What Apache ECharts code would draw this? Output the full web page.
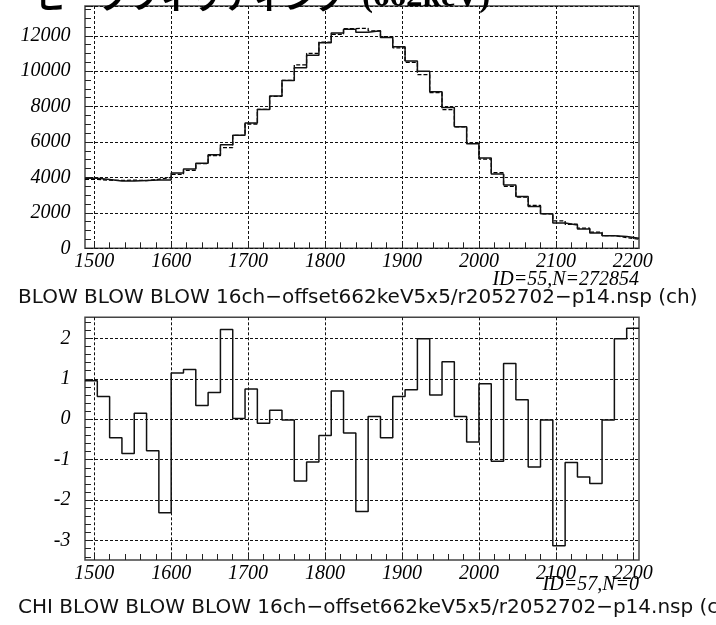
<!DOCTYPE html>
<html><head><meta charset="utf-8">
<script src="https://cdn.jsdelivr.net/npm/echarts@6/dist/echarts.min.js"></script>
<style>html,body{margin:0;padding:0;background:#fff}#c{width:716px;height:625px}</style>
</head><body><div id="c"></div>
<script>
// bin edges (16 channels per bin)
const binEdges = [1488,1504,1520,1536,1552,1568,1584,1600,1616,1632,1648,1664,1680,1696,1712,1728,1744,1760,1776,1792,1808,1824,1840,1856,1872,1888,1904,1920,1936,1952,1968,1984,2000,2016,2032,2048,2064,2080,2096,2112,2128,2144,2160,2176,2192,2208];
// measured counts per bin
const counts = [3950,3880,3800,3800,3830,3850,3860,4250,4480,4800,5280,5850,6380,7080,7830,8600,9480,10200,10900,11600,12150,12370,12200,12280,11900,11380,10570,10000,8845,7950,6860,5900,5100,4200,3580,2920,2360,1950,1430,1320,1090,865,715,660,565];
// fitted counts per bin (dashed)
const fitCounts = [3890,3845,3830,3852,3820,3898,4003,4176,4398,4776,5232,5681,6378,7017,7839,8580,9482,10355,11010,11643,12073,12408,12420,12272,11950,11320,10495,9800,8790,7824,6854,5943,5037,4268,3497,2894,2417,1951,1549,1359,1137,912,716,608,511];
// chi per bin
const chiValues = [0.95,0.56,-0.46,-0.85,0.15,-0.78,-2.31,1.14,1.23,0.34,0.66,2.22,0.02,0.75,-0.10,0.22,-0.02,-1.53,-1.06,-0.40,0.70,-0.34,-2.28,0.07,-0.46,0.56,0.73,1.99,0.60,1.42,0.07,-0.56,0.88,-1.04,1.38,0.48,-1.18,-0.02,-3.13,-1.07,-1.43,-1.59,-0.02,1.99,2.25];

const xMajorTicks = [1500,1600,1700,1800,1900,2000,2100,2200];
const xMinorTicks = [1500,1520,1540,1560,1580,1600,1620,1640,1660,1680,1700,1720,1740,1760,1780,1800,1820,1840,1860,1880,1900,1920,1940,1960,1980,2000,2020,2040,2060,2080,2100,2120,2140,2160,2180,2200];
const countTicks = [0,2000,4000,6000,8000,10000,12000];
const chiMajorTicks = [-3,-2,-1,0,1,2];
const chiMinorTicks = [-3.4,-3.2,-3.0,-2.8,-2.6,-2.4,-2.2,-2.0,-1.8,-1.6,-1.4,-1.2,-1.0,-0.8,-0.6,-0.4,-0.2,0,0.2,0.4,0.6,0.8,1.0,1.2,1.4,1.6,1.8,2.0,2.2,2.4];

const topTitleJa = 'ピークフィッティング';
const topTitleEn = '(662keV)';
const histTitle = 'BLOW BLOW BLOW 16ch\u2212offset662keV5x5/r2052702\u2212p14.nsp (ch)';
const chiTitle = 'CHI BLOW BLOW BLOW 16ch\u2212offset662keV5x5/r2052702\u2212p14.nsp (ch)';
const histId = 'ID=55,N=272854';
const chiId = 'ID=57,N=0';

function stepData(vals){
  const d = vals.map((v,i)=>[binEdges[i], v]);
  d.push([binEdges[vals.length], vals[vals.length-1]]);
  return d;
}

const gridLine = {show:true, lineStyle:{color:'#111', width:1, type:[3,2]}};
const tickStyle = {show:true, inside:true, length:6, lineStyle:{color:'#222', width:1}};
const noLine = {show:false, onZero:false};
const X_MIN = binEdges[0], X_MAX = binEdges[binEdges.length-1];
const CHI_MIN = -3.48, CHI_MAX = 2.52, COUNT_MAX = 13680;

function majorX(grid){
  return {type:'value', gridIndex:grid, min:X_MIN, max:X_MAX, position:'bottom',
    axisLine:noLine,
    axisTick:Object.assign({customValues:xMajorTicks}, tickStyle),
    axisLabel:{show:false, customValues:xMajorTicks},
    splitLine:gridLine};
}
function minorX(grid){
  return {type:'value', gridIndex:grid, min:X_MIN, max:X_MAX, position:'bottom', offset:0,
    axisLine:noLine,
    axisTick:Object.assign({customValues:xMinorTicks}, tickStyle),
    axisLabel:{show:false}, splitLine:{show:false}};
}

const option = {
  backgroundColor:'#fff',
  animation:false,
  grid:[
    {left:85, right:77, top:6, height:242.3, show:true, borderColor:'#444', borderWidth:1.5, backgroundColor:'#fff'},
    {left:85, right:77, top:317.3, height:242.7, show:true, borderColor:'#444', borderWidth:1.5, backgroundColor:'#fff'}
  ],
  xAxis:[ majorX(0), minorX(0), majorX(1), minorX(1) ],
  yAxis:[
    {type:'value', gridIndex:0, min:0, max:COUNT_MAX, interval:2000, position:'left',
      axisLine:noLine,
      axisTick:tickStyle,
      minorTick:{show:true, splitNumber:4, length:6, lineStyle:{color:'#222', width:1}},
      axisLabel:{show:false},
      splitLine:gridLine},
    {type:'value', gridIndex:1, min:CHI_MIN, max:CHI_MAX, position:'left',
      axisLine:noLine,
      axisTick:Object.assign({customValues:chiMajorTicks}, tickStyle),
      axisLabel:{show:false, customValues:chiMajorTicks},
      splitLine:gridLine},
    {type:'value', gridIndex:1, min:CHI_MIN, max:CHI_MAX, position:'left', offset:0,
      axisLine:noLine,
      axisTick:Object.assign({customValues:chiMinorTicks}, tickStyle),
      axisLabel:{show:false}, splitLine:{show:false}}
  ],
  series:[
    {type:'line', xAxisIndex:0, yAxisIndex:0, step:'end', symbol:'none', data:stepData(fitCounts),
      lineStyle:{color:'#000', width:1.3, type:[4,2]}, z:3},
    {type:'line', xAxisIndex:0, yAxisIndex:0, step:'end', symbol:'none', data:stepData(counts),
      lineStyle:{color:'#111', width:1.5}, z:4},
    {type:'line', xAxisIndex:2, yAxisIndex:1, step:'end', symbol:'none', data:stepData(chiValues),
      lineStyle:{color:'#111', width:1.5}, z:4}
  ]
};
const chart = echarts.init(document.getElementById('c'), null, {renderer:'canvas'});
chart.setOption(option);

// tick labels placed through the axes' own scales
const LABEL_FONT = "italic 20px 'Liberation Serif'";
function txt(text, x, y, align, font){
  return {type:'text', x:x, y:y, z:10, silent:true,
    style:{text:text, font:font || LABEL_FONT, fill:'#000', textAlign:align || 'center', textVerticalAlign:'middle'}};
}
const els = [];
const topBottom = chart.convertToPixel({yAxisIndex:0}, 0);
const botBottom = chart.convertToPixel({yAxisIndex:1}, CHI_MIN);
const leftEdge = chart.convertToPixel({xAxisIndex:0}, X_MIN);
xMajorTicks.forEach(v => {
  els.push(txt(String(v), chart.convertToPixel({xAxisIndex:0}, v), topBottom + 13.5));
  els.push(txt(String(v), chart.convertToPixel({xAxisIndex:2}, v), botBottom + 14));
});
countTicks.forEach(v => els.push(txt(String(v), leftEdge - 14.5, chart.convertToPixel({yAxisIndex:0}, v), 'right')));
chiMajorTicks.forEach(v => els.push(txt(String(v), leftEdge - 14.5, chart.convertToPixel({yAxisIndex:1}, v), 'right')));

els.push({type:'text', x:36, y:-4, style:{text:topTitleJa, font:"bold 31px 'Noto Sans CJK JP'", fill:'#000', textVerticalAlign:'middle'}});
els.push({type:'text', x:362, y:-3, style:{text:topTitleEn, font:"bold 33px 'Liberation Serif'", fill:'#000', textVerticalAlign:'middle'}});
els.push({type:'text', x:18, y:298, style:{text:histTitle, font:"20px 'DejaVu Sans'", fill:'#111', textVerticalAlign:'middle'}});
els.push({type:'text', x:18, y:608, style:{text:chiTitle, font:"20px 'DejaVu Sans'", fill:'#111', textVerticalAlign:'middle'}});
els.push(txt(histId, 639, 280, 'right'));
els.push(txt(chiId, 639, 585, 'right'));

chart.setOption({graphic:{elements:els}});
</script></body></html>
